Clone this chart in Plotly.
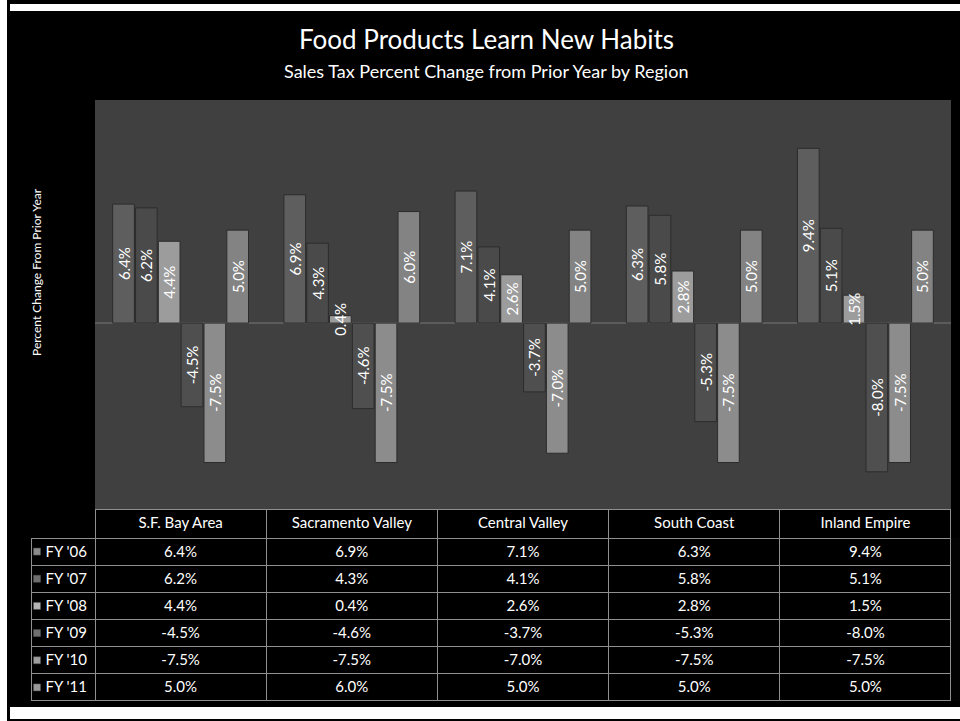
import plotly.graph_objects as go

# ---------------- data ----------------
regions = ["S.F. Bay Area", "Sacramento Valley", "Central Valley", "South Coast", "Inland Empire"]
years = ["FY '06", "FY '07", "FY '08", "FY '09", "FY '10", "FY '11"]
fy06 = [6.4, 6.9, 7.1, 6.3, 9.4]
fy07 = [6.2, 4.3, 4.1, 5.8, 5.1]
fy08 = [4.4, 0.4, 2.6, 2.8, 1.5]
fy09 = [-4.5, -4.6, -3.7, -5.3, -8.0]
fy10 = [-7.5, -7.5, -7.0, -7.5, -7.5]
fy11 = [5.0, 6.0, 5.0, 5.0, 5.0]
series = [fy06, fy07, fy08, fy09, fy10, fy11]

colors = ["#5e5e5e", "#4a4a4a", "#9c9c9c", "#4f4f4f", "#8c8c8c", "#838383"]
key_colors = ["#8a8a8a", "#6e6e6e", "#b4b4b4", "#707070", "#9e9e9e", "#9a9a9a"]

FONT = "Lato"

# ---------------- geometry helpers (pixel -> paper) ----------------
W, H = 960, 721
ML, MR, MT, MB = 31, 9, 100, 19
PW = W - ML - MR
PH = H - MT - MB


def px(x):
    return (x - ML) / PW


def py(y):
    return (H - MB - y) / PH


fig = go.Figure()

for name, vals, col in zip(years, series, colors):
    fig.add_trace(go.Bar(
        x=regions, y=vals, name=name,
        marker=dict(color=col, line=dict(color="#2c2c2c", width=1)),
        texttemplate="%{y:.1f}%",
        textposition="inside",
        insidetextanchor="middle",
        textangle=-90,
        textfont=dict(color="white", size=15, family=FONT),
        hoverinfo="skip",
        showlegend=False,
    ))

# legend keys of the data table (one square per series row)
fig.add_trace(go.Scatter(
    x=[6] * len(years), y=years,
    xaxis="x2", yaxis="y2",
    mode="markers",
    marker=dict(symbol="square", size=7, color=key_colors,
                line=dict(color="#555555", width=0.5)),
    hoverinfo="skip", showlegend=False,
))

# ---------------- data table ----------------
row_labels = [y.replace(" ", "\u00a0") for y in years]
region_cols = []
for i in range(len(regions)):
    region_cols.append([f"{s[i]:.1f}%" for s in series])

fig.add_trace(go.Table(
    domain=dict(x=[0, 1], y=[py(701), py(509)]),
    columnwidth=[64] + [171.2] * len(regions),
    header=dict(
        values=[""] + [r for r in regions],
        fill_color="rgba(0,0,0,0)",
        line=dict(color=["rgba(0,0,0,0)"] + ["#8f8f8f"] * len(regions), width=1),
        font=dict(color="white", size=15, family=FONT),
        align="center",
        height=29,
    ),
    cells=dict(
        values=[row_labels] + region_cols,
        fill_color="rgba(0,0,0,0)",
        line=dict(color="#8f8f8f", width=1),
        font=dict(color="white", size=15, family=FONT),
        align=["right"] + ["center"] * len(regions),
        height=27,
    ),
))

# ---------------- frame / background shapes ----------------
shapes = [
    # dark grey plot area of the bar chart
    dict(type="rect", xref="x domain", yref="y domain", x0=0, x1=1, y0=0, y1=1,
         fillcolor="#404040", line=dict(width=0), layer="below"),
    # left white strip
    dict(type="rect", xref="paper", yref="paper", x0=px(0), x1=px(7), y0=py(721), y1=py(0),
         fillcolor="white", line=dict(width=0), layer="above"),
    # top white strip
    dict(type="rect", xref="paper", yref="paper", x0=px(10), x1=px(960), y0=py(11), y1=py(4),
         fillcolor="white", line=dict(width=0), layer="above"),
    # bottom white strip
    dict(type="rect", xref="paper", yref="paper", x0=px(10), x1=px(960), y0=py(719), y1=py(707),
         fillcolor="white", line=dict(width=0), layer="above"),
]

annotations = [
    dict(text="Food Products Learn New Habits", xref="paper", yref="paper",
         x=px(486), y=py(39), xanchor="center", yanchor="middle", showarrow=False,
         font=dict(color="white", size=26, family=FONT)),
    dict(text="Sales Tax Percent Change from Prior Year by Region", xref="paper", yref="paper",
         x=px(486), y=py(71), xanchor="center", yanchor="middle", showarrow=False,
         font=dict(color="white", size=18, family=FONT)),
    dict(text="Percent Change From Prior Year", xref="paper", yref="paper",
         x=px(36), y=py(272), xanchor="center", yanchor="middle", showarrow=False,
         textangle=-90, font=dict(color="white", size=12, family=FONT)),
]

fig.update_layout(
    width=W, height=H,
    margin=dict(l=ML, r=MR, t=MT, b=MB, pad=0),
    paper_bgcolor="black",
    plot_bgcolor="rgba(0,0,0,0)",
    barmode="group",
    bargap=0.2,
    bargroupgap=0.05,
    uniformtext=dict(minsize=15, mode="show"),
    xaxis=dict(domain=[px(95), 1], showticklabels=False, showgrid=False,
               zeroline=False, showline=False, ticks="", fixedrange=True),
    yaxis=dict(domain=[py(509), 1], range=[-10, 12], showticklabels=False,
               showgrid=False, zeroline=True, zerolinecolor="#5c5c5c",
               zerolinewidth=2, showline=False, ticks="", fixedrange=True),
    xaxis2=dict(domain=[px(31), px(95)], range=[0, 64], anchor="y2", visible=False,
                fixedrange=True),
    yaxis2=dict(domain=[py(701), py(538)], type="category", categoryorder="array",
                categoryarray=years[::-1], range=[-0.5, len(years) - 0.5],
                anchor="x2", visible=False, fixedrange=True),
    shapes=shapes,
    annotations=annotations,
    font=dict(family=FONT, color="white"),
)

fig.write_html(
    "out.html",
    config={"displayModeBar": False},
    post_script="document.body.style.margin='0';document.body.style.padding='0';"
                "document.body.style.overflow='hidden';document.body.style.background='black';",
)
